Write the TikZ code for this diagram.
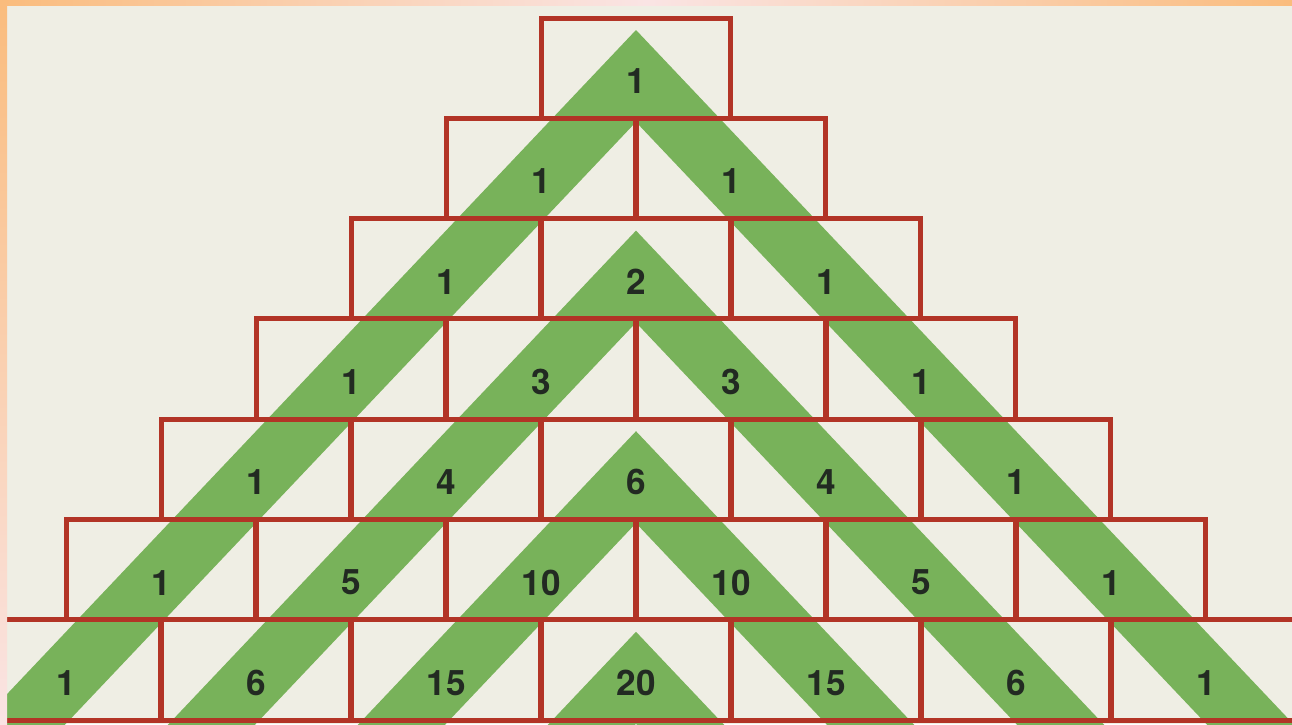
\documentclass[tikz,border=0pt]{standalone}
\usepackage{fontspec}
\newfontfamily\brickfont{TeX Gyre Heros}
\usepackage{xcolor}
\definecolor{brickred}{RGB}{178,52,38}
\definecolor{stripegreen}{RGB}{120,178,90}
\definecolor{paper}{RGB}{239,238,228}
\definecolor{frameorange}{RGB}{250,188,125}
\definecolor{framepink}{RGB}{250,228,228}
\definecolor{digitgrey}{RGB}{34,42,34}

\begin{document}
\begin{tikzpicture}[
    x=0.02cm, y=-0.02cm,
    brick/.style={rectangle, draw=brickred, line width=0.1cm,
        minimum width=3.8cm, minimum height=2.006cm, inner sep=0pt, outer sep=0pt},
    num/.style={font=\brickfont\bfseries\fontsize{20}{24}\selectfont, text=digitgrey, inner sep=0pt},
    stripe/.style={fill=stripegreen, draw=none}
]
    \useasboundingbox (0,0) rectangle (1292,724);
    \fill[paper] (0,0) rectangle (1292,724);

    % green chevrons
    \begin{scope}
        \clip (7,5) rectangle (1292,724);
        \foreach \ya in {30,230.6,431.2,631.8} {
            \fill[stripe] (636,\ya) -- ++(-663,700) -- ++(87,0) -- ++(576,-608)
                -- ++(576,608) -- ++(87,0) -- cycle;
        }
    \end{scope}

    % bricks and numbers
    \foreach \r/\row in {0/{1}, 1/{1,1}, 2/{1,2,1}, 3/{1,3,3,1}, 4/{1,4,6,4,1},
                         5/{1,5,10,10,5,1}, 6/{1,6,15,20,15,6,1}} {
        \foreach \v [count=\k from 0] in \row {
            \node[brick] (b\r-\k) at ({636+(\k-\r/2)*190}, {68.15+\r*100.3}) {};
            \node[num] (n\r-\k) at ([yshift=-0.26cm]b\r-\k.center) {\v};
        }
    }

    % frame
    \shade[left color=frameorange, right color=framepink] (0,0) rectangle (646,5);
    \shade[left color=framepink, right color=frameorange] (646,0) rectangle (1292,5);
    \shade[top color=frameorange, bottom color=framepink] (0,0) rectangle (7,724);
\end{tikzpicture}
\end{document}
